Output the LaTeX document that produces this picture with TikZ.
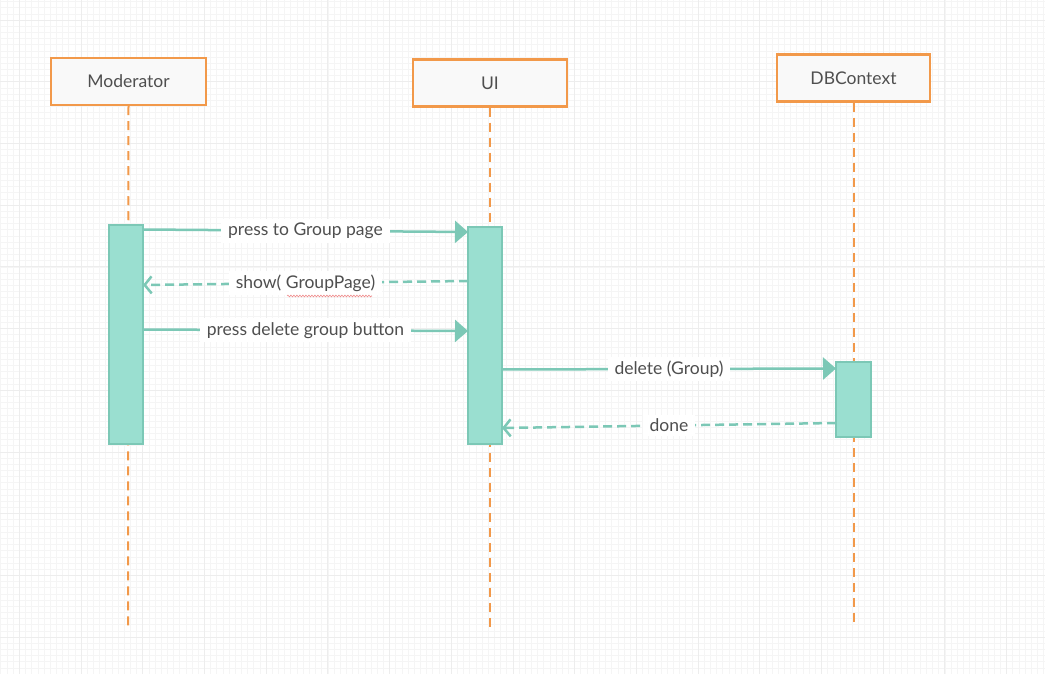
\documentclass[tikz,border=0pt]{standalone}
\usepackage{fontspec}
\setmainfont{Lato}
\usetikzlibrary{arrows.meta,decorations.pathmorphing}
\definecolor{orangeC}{HTML}{F2994A}
\definecolor{boxfill}{HTML}{F9F9F9}
\definecolor{tealfill}{HTML}{9ADFD0}
\definecolor{tealline}{HTML}{7CC8B6}
\definecolor{txt}{HTML}{4F4F4F}
\definecolor{gridminor}{HTML}{F5F5F5}
\definecolor{gridmajor}{HTML}{EDEDED}
\definecolor{squig}{HTML}{F08C8C}
\begin{document}
\begin{tikzpicture}[x=1pt,y=-1pt,
 actor/.style={draw=orangeC, line width=2.5pt, fill=boxfill, minimum width=155pt, minimum height=47pt, text=txt, font=\fontsize{17.5}{20}\selectfont, inner sep=0pt},
 lifeline/.style={draw=orangeC, line width=2pt, dash pattern=on 9pt off 6pt},
 activation/.style={draw=tealline, line width=2pt, fill=tealfill, minimum width=34pt, inner sep=0pt},
 msg/.style={draw=tealline, line width=2.5pt, -{Triangle[length=13pt,width=22pt]}},
 reply/.style={draw=tealline, line width=2.5pt, dash pattern=on 9pt off 5pt, -{Straight Barb[length=7pt,width=17pt,line width=2.5pt]}},
 lbl/.style={fill=white, text=txt, font=\fontsize{17.5}{20}\selectfont, inner xsep=7pt, inner ysep=4pt},
 gmin/.style={draw=gridminor, line width=0.6pt},
 gmaj/.style={draw=gridmajor, line width=0.8pt},
]
\fill[white] (0,0) rectangle (1045,674);
\useasboundingbox (0,0) rectangle (1045,674);
% grid
\foreach \i in {0,...,170} { \draw[gmin] ({\i*6.17+0.8},0) -- ({\i*6.17+0.8},674); }
\foreach \i in {0,...,110} { \draw[gmin] (0,{\i*6.17+1.5}) -- (1045,{\i*6.17+1.5}); }
\foreach \i in {0,...,17} { \draw[gmaj] ({\i*61.7+19.3},0) -- ({\i*61.7+19.3},674); }
\foreach \i in {0,...,11} { \draw[gmaj] (0,{\i*61.7+20}) -- (1045,{\i*61.7+20}); }

% actors
\node[actor] (mod) at (128.5,81.5) {Moderator};
\node[actor, minimum width=154pt] (ui) at (490,83) {UI};
\node[actor, minimum width=153pt] (db) at (853.5,78) {DBContext};

% lifelines
\coordinate (modEnd) at (128,628);
\coordinate (uiEnd) at (490,630);
\coordinate (dbEnd) at (853.5,625);
\draw[lifeline] (mod.south) -- (modEnd);
\draw[lifeline] (ui.south) -- (uiEnd);
\draw[lifeline] (db.south) -- (dbEnd);

% activations
\node[activation, minimum height=219pt] (actM) at (126,334.5) {};
\node[activation, minimum height=217pt] (actU) at (485,335.5) {};
\node[activation, minimum width=35pt, minimum height=75pt] (actD) at (853.5,399.5) {};

% message end points
\coordinate (m1a) at (143,229.5);
\coordinate (m1b) at (468,232);
\coordinate (m2a) at (468,281);
\coordinate (m2b) at (143,285);
\coordinate (m3a) at (143,329.5);
\coordinate (m3b) at (468,331);
\coordinate (m4a) at (502,369.5);
\coordinate (m4b) at (836,368.5);
\coordinate (m5a) at (836,423);
\coordinate (m5b) at (502,428);

\draw[msg] (m1a) -- node[lbl] (l1) {press to Group page} (m1b);
\draw[reply] (m2a) -- node[lbl] (l2) {show( GroupPage)} (m2b);
\draw[msg] (m3a) -- node[lbl] (l3) {press delete group button} (m3b);
\draw[msg] (m4a) -- node[lbl] (l4) {delete (Group)} (m4b);
\draw[reply] (m5a) -- node[lbl] (l5) {done} (m5b);

% spell-check squiggle under GroupPage
\draw[squig, line width=0.6pt, decorate, decoration={snake, amplitude=0.9pt, segment length=3pt}] (287,296) -- (372,296);
\end{tikzpicture}
\end{document}
